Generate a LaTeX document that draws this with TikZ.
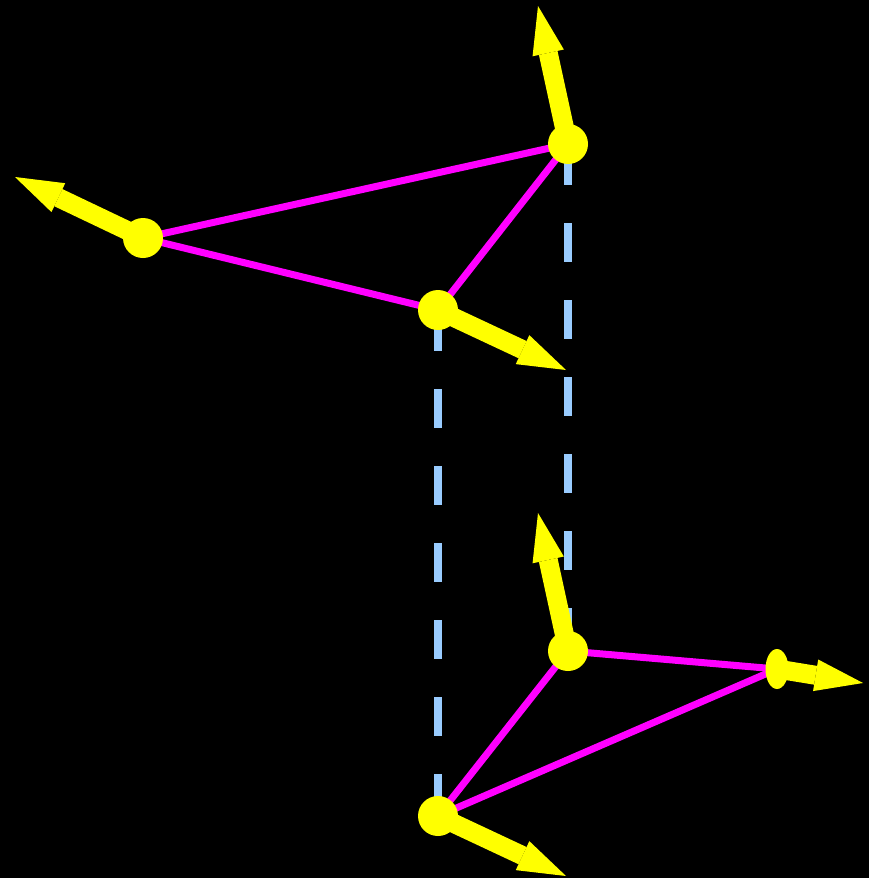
\documentclass[tikz,border=0pt]{standalone}
\usetikzlibrary{arrows.meta,shapes.geometric}
\definecolor{mag}{RGB}{255,0,255}
\definecolor{yel}{RGB}{255,255,0}
\definecolor{lblue}{RGB}{153,204,255}
\pgfdeclarelayer{bg}
\pgfdeclarelayer{back}
\pgfsetlayers{back,bg,main}
\begin{document}
\begin{tikzpicture}[x=1pt,y=-1pt,
  dot/.style={circle,fill=yel,minimum size=40pt,inner sep=0pt},
  flatdot/.style={ellipse,fill=yel,minimum width=23pt,minimum height=40pt,inner sep=0pt},
  edge/.style={mag,line width=7pt},
  proj/.style={lblue,line width=8pt,dash pattern=on 39pt off 38pt,dash phase=-2pt},
  vec/.style={yel,line width=19pt,-{Triangle[length=48pt,width=32pt,line width=0pt]}}]
\begin{pgfonlayer}{back}
\fill[black] (0,0) rectangle (869,878);
\end{pgfonlayer}
\useasboundingbox (0,0) rectangle (869,878);
% nodes
\node[dot] (A) at (568,144) {};
\node[dot] (B) at (143,238) {};
\node[dot] (C) at (438,310) {};
\node[dot] (D) at (568,651) {};
\node[flatdot] (E) at (777,669) {};
\node[dot] (F) at (438,816) {};
% arrow tips
\coordinate (tA) at (538,6);
\coordinate (tB) at (15,177);
\coordinate (tC) at (566,370);
\coordinate (tD) at (538,513);
\coordinate (tE) at (863,683);
\coordinate (tF) at (566,876);
\begin{pgfonlayer}{bg}
\draw[proj] (A.center) -- (D.center);
\draw[proj] (C.center) -- (F.center);
\draw[edge] (A.center) -- (B.center);
\draw[edge] (B.center) -- (C.center);
\draw[edge] (C.center) -- (A.center);
\draw[edge] (D.center) -- (E.center);
\draw[edge] (E.center) -- (F.center);
\draw[edge] (F.center) -- (D.center);
\draw[vec] (A.center) -- (tA);
\draw[vec] (B.center) -- (tB);
\draw[vec] (C.center) -- (tC);
\draw[vec] (D.center) -- (tD);
\draw[vec] (E.center) -- (tE);
\draw[vec] (F.center) -- (tF);
\end{pgfonlayer}
\end{tikzpicture}
\end{document}
